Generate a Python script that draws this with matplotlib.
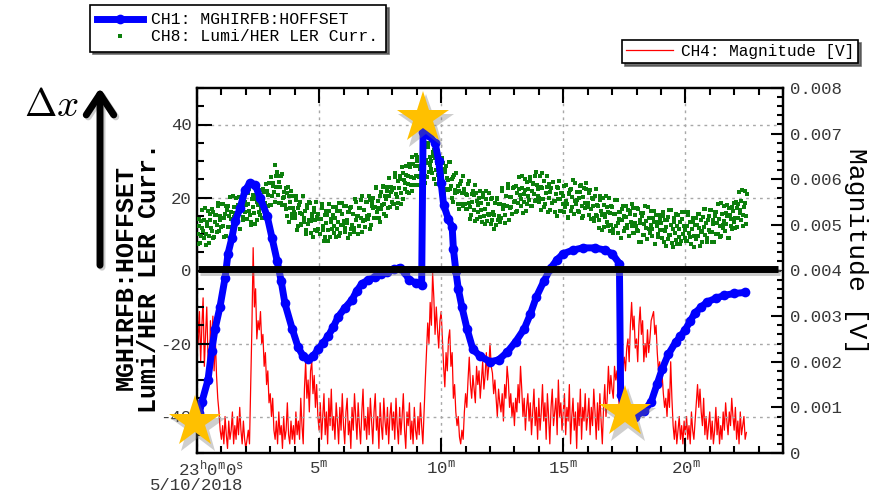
import numpy as np
import matplotlib
matplotlib.use('Agg')
import matplotlib.pyplot as plt
import matplotlib.transforms as mtransforms
from matplotlib.patches import FancyArrowPatch

plt.rcParams['font.family'] = ['Liberation Mono', 'DejaVu Sans Mono']
plt.rcParams['mathtext.fontset'] = 'custom'
plt.rcParams['mathtext.rm'] = 'Liberation Mono'
plt.rcParams['mathtext.it'] = 'Liberation Mono'
plt.rcParams['mathtext.bf'] = 'Liberation Mono:bold'

# --- data (time in minutes after 23:00:00) ---
# CH1: MGHIRFB:HOFFSET
blue_t = [0.10, 0.20, 0.45, 0.60, 0.74, 0.94, 1.15, 1.27, 1.43, 1.56,
          1.76, 1.97, 2.17, 2.38, 2.58, 2.87, 3.07, 3.28, 3.45, 3.60,
          3.90, 4.14, 4.35, 4.55, 4.75, 4.96, 5.17, 5.37, 5.58, 5.78,
          6.05, 6.35, 6.55, 6.76, 7.00, 7.30, 7.55, 7.80, 8.05, 8.30,
          8.50, 8.70, 8.95, 9.20, 9.26, 9.50, 9.75, 9.90, 10.00, 10.10,
          10.30, 10.45, 10.50, 10.60, 10.70, 10.85, 11.06, 11.30, 11.60, 12.00,
          12.35, 12.70, 13.05, 13.40, 13.65, 13.90, 14.20, 14.50, 14.75, 15.00,
          15.40, 15.80, 16.30, 16.70, 17.00, 17.30, 17.35, 17.50, 17.70, 17.95,
          18.30, 18.60, 18.85, 19.05, 19.30, 19.60, 19.80, 20.00, 20.20, 20.40,
          20.65, 20.90, 21.25, 21.60, 22.00, 22.45]
blue_v = [-39, -36, -30, -22, -16, -10, -2, 4.6, 9, 13.5,
          17, 22, 24, 23.5, 20, 15, 9, 2.7, -3, -9,
          -16, -21, -23.5, -24.3, -23.5, -21.6, -19.8, -18, -15.5, -12.7,
          -10.3, -8, -5.5, -3.6, -2.6, -1.8, -1.0, -0.5, 0.3, 0.8,
          -0.5, -2.7, -3.3, -4, 38, 37, 35, 30, 24, 18,
          14, 12, 6, 0, -5, -10, -16, -21.6, -23.5, -25,
          -24.5, -22.4, -19.5, -16, -12, -7.2, -3, 0.8, 3, 4.6,
          5.6, 6.2, 6.2, 5.6, 4.6, 1.9, -34, -38, -39.5, -40,
          -38.5, -36, -31, -27, -23, -19.7, -18, -16.2, -13.8, -11.6,
          -10, -8.6, -7.6, -6.8, -6.3, -6]

# sampling period of CH8 and CH4 (minutes)
sample_step = 0.05

# CH8: Lumi/HER LER Curr., two interleaved readouts (one row per minute)
green_rows_a = [
    [14, 7.2, 12.3, 9.5, 16.6, 10.8, 13.9, 7.1, 12.2, 16.4, 9.5, 13.7, 10.8, 16, 9.1, 15.3, 12.4, 17.6, 10.7, 13.9],
    [12, 18.2, 9.3, 15.5, 17.6, 11.8, 14.9, 20.1, 14.2, 11.4, 17.5, 13.7, 19.8, 15, 17.1, 11.3, 19.4, 16.6, 13.7, 18.9],
    [18, 14.1, 21.2, 16.3, 12.4, 19.5, 20.6, 15.7, 22.8, 13.9, 18, 20.1, 15.2, 19.3, 22.4, 16.5, 14.6, 21.7, 17.8, 23.9],
    [24, 18, 24, 21.5, 29, 23, 26, 18.5, 23, 26, 18, 21.5, 18, 22.5, 15, 20.5, 17, 21.8, 14.5, 17.2],
    [14.5, 20.3, 11.2, 17, 18.9, 12.7, 15.6, 20.4, 14.3, 11.1, 17, 12.8, 18.7, 13.5, 15.4, 9.2, 17.1, 13.9, 10.8, 15.6],
    [14, 10, 17.1, 12.1, 8.1, 15.1, 16.2, 11.2, 18.2, 9.2, 13.3, 15.3, 10.3, 14.3, 17.4, 11.4, 9.4, 16.4, 12.5, 18.5],
    [13.5, 10.6, 17.8, 12.9, 16, 10.1, 17.3, 12.4, 15.5, 11.6, 18.8, 14.9, 10, 17.1, 14.3, 20.4, 13.5, 16.6, 11.8, 18.9],
    [14, 20.3, 11.5, 17.8, 20, 14.3, 17.5, 22.8, 17, 14.3, 20.5, 16.8, 23, 18.3, 20.5, 14.8, 23, 20.3, 17.5, 22.8],
    [22, 18.3, 25.6, 20.9, 17.2, 24.5, 25.8, 21.1, 28.4, 19.7, 24, 26.3, 21.6, 25.9, 29.2, 23.5, 21.8, 29.1, 25.4, 31.7],
    [30, 23.3, 28.6, 25.9, 33.2, 27.5, 30.8, 24.1, 29.4, 33.7, 27, 31, 27.8, 32.5, 25.2, 30.9, 27.6, 32.3, 25, 27.6],
    [25, 30.7, 21.3, 27, 28.6, 22.3, 24.9, 29.6, 23.2, 19.9, 25.5, 21.2, 26.8, 21.5, 23.1, 16.8, 24.4, 21.1, 17.7, 22.4],
    [21, 16.8, 23.6, 18.4, 14.2, 21, 21.8, 16.6, 23.4, 14.2, 18, 19.8, 14.6, 18.4, 21.2, 15, 12.8, 19.6, 15.4, 21.2],
    [15.5, 12.7, 20, 15.2, 18.4, 12.6, 19.8, 15, 18.3, 14.5, 21.7, 17.9, 13.1, 20.4, 17.6, 23.8, 17, 20.2, 15.5, 22.7],
    [23, 16.1, 21.2, 18.4, 25.5, 19.6, 22.7, 15.8, 21, 25.1, 18.2, 22.3, 19.4, 24.6, 17.7, 23.8, 20.9, 26, 19.2, 22.3],
    [20, 25.9, 16.7, 22.6, 24.4, 18.3, 21.1, 26, 19.8, 16.7, 22.5, 18.4, 24.2, 19.1, 20.9, 14.8, 22.6, 19.5, 16.3, 21.2],
    [20.3, 16.0, 23.5, 18.1, 14.6, 21.0, 22.4, 17.3, 24.8, 15.5, 19.1, 21.6, 16.4, 20.0, 23.1, 17.7, 15.0, 22.5, 18.4, 23.9],
    [18.5, 15.3, 22.1, 16.9, 19.7, 13.5, 20.3, 15.1, 17.9, 13.7, 20.5, 16.3, 11.1, 17.9, 14.7, 20.5, 13.3, 16.1, 10.9, 17.7],
    [17.5, 10.4, 15.4, 12.3, 19.2, 13.1, 16.1, 9, 13.9, 17.8, 10.8, 14.7, 11.6, 16.5, 9.5, 15.4, 12.3, 17.2, 10.2, 13.1],
    [11, 16.9, 7.9, 13.8, 15.8, 9.7, 12.7, 17.6, 11.6, 8.5, 14.5, 10.4, 16.4, 11.3, 13.3, 7.2, 15.2, 12.1, 9.1, 14],
    [13, 8.9, 15.9, 10.8, 6.8, 13.7, 14.7, 9.6, 16.6, 7.5, 11.5, 13.4, 8.4, 12.3, 15.3, 9.2, 7.2, 14.1, 10.1, 16],
    [11, 8.1, 15.1, 10.2, 13.2, 7.3, 14.3, 9.4, 12.4, 8.5, 15.5, 11.6, 6.6, 13.7, 10.7, 16.8, 9.8, 12.9, 7.9, 15],
    [10.5, 16.6, 7.7, 13.8, 15.9, 10, 13.1, 18.2, 12.3, 9.4, 15.5, 11.6, 17.7, 12.8, 14.9, 9, 17.1, 14.2, 11.3, 16.4],
    [18.5, 11.75, 17, 14.25, 21.5, 15.75, 19, 12.25, 17.5, 21.75, 15],
]
green_rows_b = [
    [10.1, 14.2, 7.4, 13.5, 11.7, 8.8, 17, 10.1, 13.3, 7.4, 15.6, 11.7, 16.9, 9, 13.2, 15.3, 10.5, 18.6, 14.8, 11.9],
    [18.1, 12.2, 14.4, 9.5, 16.7, 17.8, 12, 16.1, 11.3, 20.4, 14.6, 15.7, 12.9, 18, 20.2, 11.3, 17.5, 14.6, 19.8, 15.9],
    [14, 18.1, 22.2, 15.3, 13.4, 17.5, 19.6, 12.7, 20.8, 18.9, 16, 22.1, 17.2, 14.3, 21.4, 18.5, 23.6, 15.7, 20.8, 17.9],
    [25.5, 20.5, 23.2, 18.8, 26, 27, 20.8, 24.2, 18.5, 26.5, 19.8, 20.2, 16.8, 21.2, 22.8, 13.2, 18.9, 15.6, 20.3, 16],
    [15.4, 19.2, 12.1, 17.9, 15.8, 12.6, 20.5, 13.3, 16.2, 10, 17.9, 13.7, 18.6, 10.4, 14.3, 16.1, 11, 18.8, 14.7, 11.5],
    [10, 14, 18.1, 11.1, 9.1, 13.1, 15.2, 8.2, 16.2, 14.2, 11.3, 17.3, 12.3, 9.3, 16.4, 13.4, 18.4, 10.4, 15.5, 12.5],
    [17.6, 11.7, 13.9, 9, 16.1, 17.2, 11.4, 15.5, 10.6, 19.7, 13.9, 15, 12.1, 17.2, 19.4, 10.5, 16.6, 13.7, 18.9, 15],
    [15.1, 19.4, 12.6, 18.9, 17.1, 14.4, 22.6, 15.9, 19.1, 13.4, 21.6, 17.9, 23.1, 15.4, 19.6, 21.9, 17.1, 25.4, 21.6, 18.9],
    [18.2, 22.5, 26.8, 20.1, 18.4, 22.7, 25, 18.3, 26.6, 24.9, 22.2, 28.5, 23.8, 21.1, 28.4, 25.7, 31, 23.3, 28.6, 25.9],
    [31.2, 25.5, 27.8, 23.1, 30.4, 31.7, 26, 30.3, 25.6, 34.9, 29, 29.9, 26.7, 31.4, 33.1, 23.8, 29.5, 26.2, 30.9, 26.5],
    [25.8, 29.5, 22.1, 27.8, 25.4, 22.1, 29.7, 22.4, 25, 18.7, 26.3, 22, 26.6, 18.3, 21.9, 23.6, 18.2, 25.9, 21.5, 18.2],
    [16.9, 20.7, 24.5, 17.3, 15.1, 18.9, 20.7, 13.5, 21.3, 19.1, 15.9, 21.7, 16.5, 13.3, 20.1, 16.9, 21.7, 13.5, 18.3, 15.1],
    [19.6, 13.8, 16.1, 11.3, 18.5, 19.7, 13.9, 18.2, 13.4, 22.6, 16.8, 18, 15.3, 20.5, 22.7, 13.9, 20.1, 17.4, 22.6, 18.8],
    [19.1, 23.2, 16.3, 22.4, 20.6, 17.7, 25.8, 18.9, 22, 16.2, 24.3, 20.4, 25.5, 17.7, 21.8, 23.9, 19, 27.1, 23.3, 20.4],
    [18.9, 22.8, 26.6, 19.5, 17.3, 21.2, 23, 15.9, 23.7, 21.6, 18.4, 24.3, 19.1, 16, 22.8, 19.7, 24.5, 16.4, 21.2, 18.1],
    [23.1, 17.4, 19.0, 14.5, 21.3, 22.0, 16.4, 20.1, 15.6, 24.0, 18.3, 19.4, 16.0, 21.5, 23.3, 14.4, 20.2, 17.1, 22.4, 18.0],
    [17.4, 21.2, 14, 19.8, 17.6, 14.4, 22.2, 15, 17.8, 11.6, 19.4, 15.2, 20, 11.8, 15.6, 17.4, 12.2, 20, 15.8, 12.6],
    [11.5, 15.4, 19.3, 12.3, 10.2, 14.1, 16, 9, 16.9, 14.8, 11.7, 17.7, 12.6, 9.5, 16.4, 13.4, 18.3, 10.2, 15.1, 12.1],
    [17, 10.9, 12.9, 7.8, 14.8, 15.7, 9.7, 13.6, 8.6, 17.5, 11.5, 12.4, 9.4, 14.3, 16.3, 7.2, 13.2, 10.1, 15.1, 11],
    [11, 14.9, 7.9, 13.8, 11.8, 8.7, 16.7, 9.6, 12.6, 6.5, 14.5, 10.4, 15.4, 7.3, 11.3, 13.2, 8.2, 16.1, 12.1, 9],
    [8, 12.1, 16.1, 9.2, 7.2, 11.3, 13.3, 6.4, 14.4, 12.5, 9.5, 15.6, 10.6, 7.7, 14.7, 11.8, 16.8, 8.9, 13.9, 11],
    [16.5, 10.6, 12.7, 7.8, 14.9, 16, 10.1, 14.2, 9.3, 18.4, 12.5, 13.6, 10.7, 15.8, 17.9, 9, 15.1, 12.2, 17.3, 13.4],
    [14.5, 18.75, 12, 18.25, 16.5, 13.75, 22, 15.25, 18.5, 12.75, 21],
]
green_b_offset = 0.025

# CH4: Magnitude, in mV (one row per minute)
red_rows_mv = [
    [3.6, 2.4, 3.1, 2.0, 2.8, 3.4, 1.9, 2.6, 3.2, 2.1, 1.6, 2.9, 2.3, 3.0, 1.8, 2.5, 1.7, 1.2, 0.9, 0.5],
    [0.3, 0.6, 0.2, 0.8, 0.4, 0.1, 0.7, 0.3, 0.5, 0.9, 0.2, 0.6, 0.3, 0.8, 0.4, 1.0, 0.5, 0.2, 0.7, 0.3],
    [0.1, 0.3, 0.5, 0.2, 1.5, 2.8, 4.5, 3.2, 3.6, 2.5, 2.9, 2.7, 3.1, 2.4, 2.6, 1.9, 2.2, 1.5, 1.8, 1.1],
    [1.3, 0.8, 1.2, 0.5, 0.3, 0.7, 0.2, 0.9, 0.4, 0.6, 0.1, 0.8, 0.3, 0.5, 1.1, 0.4, 0.2, 0.7, 0.3, 0.6],
    [0.2, 0.9, 0.4, 0.7, 0.3, 1.2, 0.6, 0.2, 1.4, 2.0, 1.2, 1.6, 0.9, 1.8, 2.0, 1.3, 1.7, 1.0, 1.5, 0.8],
    [0.5, 1.1, 0.3, 0.8, 1.3, 0.4, 0.9, 0.2, 1.2, 0.6, 1.4, 0.5, 0.8, 0.3, 1.1, 0.7, 0.2, 1.0, 0.5, 1.3],
    [0.6, 0.2, 0.9, 1.2, 0.4, 0.7, 0.1, 1.0, 0.5, 1.3, 0.8, 0.3, 1.1, 0.6, 0.2, 0.9, 1.4, 0.5, 0.8, 0.3],
    [1.0, 0.4, 1.2, 0.7, 0.2, 0.9, 1.3, 0.5, 0.8, 0.1, 1.1, 0.6, 0.3, 1.2, 0.7, 0.4, 1.0, 0.2, 0.8, 1.1],
    [0.5, 0.9, 0.3, 1.2, 0.6, 0.2, 1.0, 0.4, 0.8, 1.3, 0.5, 0.1, 0.9, 0.6, 1.1, 0.3, 0.7, 0.2, 1.0, 0.5],
    [0.3, 0.8, 0.4, 1.1, 0.6, 0.2, 0.9, 1.6, 2.2, 2.85, 2.4, 3.3, 2.8, 3.95, 3.4, 2.6, 3.2, 2.7, 2.3, 2.9],
    [3.1, 2.5, 1.9, 1.45, 2.2, 1.8, 2.5, 2.7, 1.9, 2.2, 1.2, 1.5, 0.9, 0.6, 0.8, 0.35, 0.2, 0.5, 0.3, 0.9],
    [1.3, 1.0, 1.6, 2.1, 1.5, 1.2, 1.7, 1.4, 1.1, 1.9, 1.5, 1.8, 1.2, 1.6, 2.0, 1.4, 1.7, 2.2, 1.6, 1.9],
    [2.4, 1.9, 1.75, 1.3, 1.6, 1.2, 0.8, 1.4, 1.1, 0.9, 1.3, 0.7, 1.5, 1.2, 1.9, 1.6, 1.0, 1.3, 0.8, 1.1],
    [0.6, 1.2, 0.9, 1.5, 1.1, 1.9, 1.4, 0.8, 1.2, 0.5, 1.0, 1.3, 0.7, 1.1, 0.4, 0.9, 1.4, 0.6, 1.0, 0.3],
    [1.2, 0.5, 0.9, 1.5, 0.7, 1.1, 0.3, 1.3, 0.8, 0.2, 1.0, 1.4, 0.6, 0.9, 1.2, 0.4, 1.6, 0.8, 1.1, 0.5],
    [0.9, 1.3, 0.4, 1.0, 0.7, 1.5, 0.2, 0.8, 1.2, 0.5, 0.9, 0.1, 1.1, 0.6, 1.4, 0.3, 1.0, 0.7, 1.3, 0.5],
    [0.8, 1.2, 0.4, 1.0, 0.6, 1.4, 0.9, 0.3, 1.1, 0.5, 1.3, 0.7, 0.2, 1.0, 1.5, 0.8, 1.2, 1.9, 1.3, 1.7],
    [1.4, 1.2, 1.9, 1.6, 1.8, 1.3, 1.0, 1.5, 1.3, 1.9, 2.1, 1.8, 2.3, 2.5, 2.0, 2.8, 3.3, 2.7, 3.0, 2.3],
    [2.5, 2.0, 2.8, 3.2, 2.6, 2.9, 2.0, 2.4, 2.1, 2.7, 2.2, 2.5, 2.9, 3.0, 3.1, 2.6, 2.8, 2.2, 1.8, 2.0],
    [1.5, 1.7, 1.3, 1.0, 1.2, 0.8, 1.4, 1.0, 2.0, 1.2, 0.6, 0.3, 0.7, 0.2, 0.5, 0.8, 0.3, 0.6, 0.2, 0.7],
    [0.4, 0.8, 0.3, 0.6, 0.2, 0.9, 0.5, 0.3, 0.7, 1.1, 1.5, 1.0, 1.4, 0.9, 0.6, 1.2, 0.4, 0.8, 0.3, 0.6],
    [0.9, 0.3, 0.7, 0.2, 0.5, 1.0, 0.4, 0.8, 0.2, 0.6, 0.3, 0.9, 0.5, 1.1, 0.7, 0.4, 0.9, 0.6, 1.2, 0.8],
    [0.5, 1.0, 0.3, 0.7, 0.2, 0.9, 0.4, 0.6, 0.8, 0.3, 0.45],
]

x_ticks = [0, 5, 10, 15, 20]
x_labels = ['23$^{\\mathrm{h}}$0$^{\\mathrm{m}}$0$^{\\mathrm{s}}$\n5/10/2018',
            '5$^{\\mathrm{m}}$', '10$^{\\mathrm{m}}$', '15$^{\\mathrm{m}}$', '20$^{\\mathrm{m}}$']
left_ticks = [-40, -20, 0, 20, 40]
left_labels = ['-40', '-20', '0', '20', '40']
right_ticks = [0, 0.001, 0.002, 0.003, 0.004, 0.005, 0.006, 0.007, 0.008]
right_labels = ['0', '0.001', '0.002', '0.003', '0.004', '0.005', '0.006', '0.007', '0.008']

# annotation overlay (stars and reference line)
star_t = [-0.08, 9.26, 17.54]
star_v = [-41.5, 41.8, -38.8]
ref_level = 0.4

green_a = np.concatenate([np.array(r, dtype=float) for r in green_rows_a])
green_b = np.concatenate([np.array(r, dtype=float) for r in green_rows_b])
green_v = np.concatenate([green_a, green_b])
green_t = np.concatenate([np.arange(len(green_a)) * sample_step,
                          np.arange(len(green_b)) * sample_step + green_b_offset])
red_v = np.concatenate([np.array(r, dtype=float) for r in red_rows_mv]) * 1e-3
red_t = np.arange(len(red_v)) * sample_step

fig = plt.figure(figsize=(8.8, 4.95), dpi=100)
ax = fig.add_axes([197/880, 1-453/495, 586/880, 365/495])
ax2 = ax.twinx()
ax.set_zorder(ax2.get_zorder() + 1)
ax.patch.set_visible(False)

red_line, = ax2.plot(red_t, red_v, color='#ff0000', lw=0.9)
green_pts, = ax.plot(green_t, green_v, 's', color='#0c7f0c', ms=2.3, mew=0, zorder=3)
blue_line, = ax.plot(blue_t, blue_v, '-o', color='#0000ff', lw=5, ms=7, mew=0, zorder=4)

ax.set_xlim(0, 24)
ax.set_ylim(-50, 50)
ax2.set_ylim(0, 0.008)

ax.set_xticks(x_ticks)
ax.set_xticklabels(x_labels, multialignment='right', linespacing=0.95)
ax.set_xticks(np.arange(0, 25, 1), minor=True)
ax.set_yticks(left_ticks)
ax.set_yticklabels(left_labels)
ax.set_yticks(np.arange(-50, 51, 5), minor=True)
ax2.set_yticks(right_ticks)
ax2.set_yticklabels(right_labels)
ax2.set_yticks(np.arange(0, 0.00801, 0.0002), minor=True)

tick_col = '#383838'
ax.tick_params(axis='x', which='both', direction='in', top=True, bottom=True,
               width=1.5, labelsize=12.5, labelcolor=tick_col, pad=4)
ax.tick_params(axis='y', which='both', direction='in', left=True, right=False,
               width=1.5, labelsize=12.5, labelcolor=tick_col, pad=4)
ax.tick_params(which='major', length=11)
ax.tick_params(which='minor', length=5)
ax2.tick_params(axis='y', which='both', direction='in', width=1.5,
                labelsize=12.5, labelcolor=tick_col, pad=5)
ax2.tick_params(which='major', length=9)
ax2.tick_params(which='minor', length=4.5)
for a in (ax, ax2):
    for s in a.spines.values():
        s.set_linewidth(1.6)

ax.grid(True, which='major', linestyle=(0, (2, 3)), color='#a8a8a8', lw=1)

# axis titles
fig.text(137/880, 1-278/495, 'MGHIRFB:HOFFSET\nLumi/HER LER Curr.', rotation=90,
         ha='center', va='center', fontsize=18, fontweight='bold', linespacing=0.95)
fig.text(856/880, 1-251/495, 'Magnitude [V]', rotation=-90,
         ha='center', va='center', fontsize=19)

# reference line with soft shadow
shadow_tr = mtransforms.offset_copy(ax.transData, fig=fig, x=2, y=-3, units='dots')
ax.hlines(ref_level, 0.05, 23.8, color='0.55', lw=5, alpha=0.45, transform=shadow_tr, zorder=5)
ax.hlines(ref_level, 0.05, 23.8, color='black', lw=5, zorder=6)

# stars with shadow
star_sh = mtransforms.offset_copy(ax.transData, fig=fig, x=3, y=-5, units='dots')
ax.plot(star_t, star_v, '*', ms=42, color='0.45', alpha=0.35, mew=0,
        transform=star_sh, clip_on=False, zorder=9)
ax.plot(star_t, star_v, '*', ms=39, color='#ffc000', mew=0, clip_on=False, zorder=10)

# delta-x arrow
arr_sh = FancyArrowPatch((102/880, 1-270/495), (102/880, 1-87/495), transform=fig.transFigure,
                         arrowstyle='->,head_length=0.5,head_width=0.33', mutation_scale=30,
                         lw=5, color='0.6', alpha=0.5)
fig.add_artist(arr_sh)
arr = FancyArrowPatch((100/880, 1-268/495), (100/880, 1-85/495), transform=fig.transFigure,
                      arrowstyle='->,head_length=0.5,head_width=0.33', mutation_scale=30,
                      lw=5, color='black')
fig.add_artist(arr)
fig.text(24/880, 1-116/495, r'$\Delta x$', fontsize=28, math_fontfamily='cm',
         ha='left', va='baseline')

# legends
leg1 = fig.legend(handles=[blue_line, green_pts],
                  labels=['CH1: MGHIRFB:HOFFSET', 'CH8: Lumi/HER LER Curr.'],
                  loc='upper left', bbox_to_anchor=(90/880, 1-5/495), borderaxespad=0,
                  fontsize=11.8, handlelength=2.8, handletextpad=0.5, borderpad=0.45,
                  labelspacing=0.12, numpoints=1, fancybox=False, framealpha=1,
                  edgecolor='black', shadow={'color': '0.3', 'alpha': 0.8})
leg1.get_frame().set_linewidth(1.2)
leg2 = fig.legend(handles=[red_line], labels=['CH4: Magnitude [V]'],
                  loc='upper left', bbox_to_anchor=(622/880, 1-40/495), borderaxespad=0,
                  fontsize=11.6, handlelength=2.9, handletextpad=0.5, borderpad=0.25,
                  fancybox=False, framealpha=1, edgecolor='black',
                  shadow={'color': '0.3', 'alpha': 0.8})
leg2.get_frame().set_linewidth(1.2)

fig.savefig('out.png', dpi=100)
